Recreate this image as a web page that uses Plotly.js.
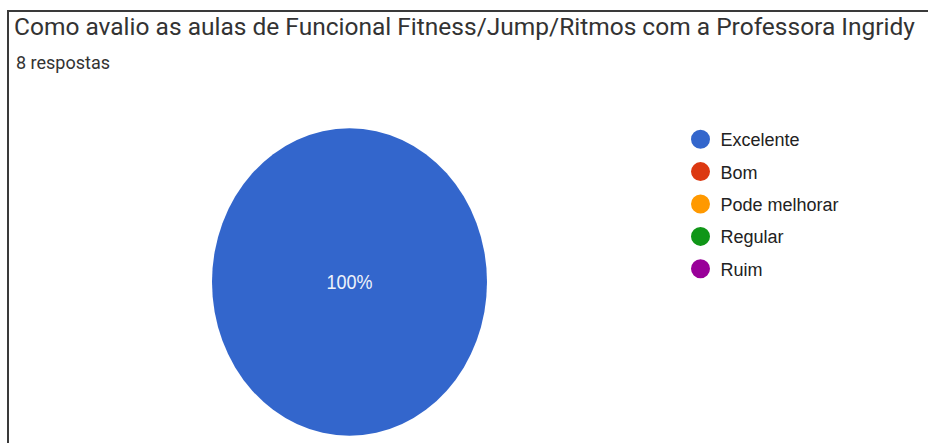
<!DOCTYPE html>
<html><head><meta charset="utf-8">
<script src="https://cdn.plot.ly/plotly-3.0.1.min.js"></script>
<style>html,body{margin:0;padding:0;background:#fff;} #chart{width:928px;height:443px;}</style>
</head><body><div id="chart"></div>
<script>
const titleText = "Como avalio as aulas de Funcional Fitness/Jump/Ritmos com a Professora Ingridy";
const subtitleText = "8 respostas";
const categories = ["Excelente", "Bom", "Pode melhorar", "Regular", "Ruim"];
const responses = [8, 0, 0, 0, 0];
const colors = ["#3366cc", "#dc3912", "#ff9900", "#109618", "#990099"];

const W = 928, H = 443;
const pieCx = 349.5, pieCy = 282, pieR = 137.5, stretch = 1.118;

const pieTrace = {
  type: 'pie', labels: categories, values: responses,
  marker: {colors: colors, line: {width: 0}},
  sort: false, direction: 'clockwise', rotation: 0,
  textinfo: 'percent',
  textposition: responses.map(v => v > 0 ? 'inside' : 'none'),
  insidetextorientation: 'horizontal',
  textfont: {family: 'Arial, "Liberation Sans", sans-serif', size: 18, color: '#eef2fa'},
  showlegend: false, hoverinfo: 'skip',
  domain: {x: [(pieCx - pieR) / W, (pieCx + pieR) / W], y: [(H - pieCy - pieR) / H, (H - pieCy + pieR) / H]}
};
const legendTraces = categories.map((c, i) => ({
  type: 'scatter', mode: 'markers', x: [null], y: [null], name: c, legendgroup: c,
  marker: {color: colors[i], size: 16, symbol: 'circle', line: {color: colors[i], width: 3}},
  hoverinfo: 'skip'
}));

const layout = {
  width: W, height: H, margin: {l: 0, r: 0, t: 0, b: 0},
  paper_bgcolor: '#ffffff', plot_bgcolor: 'rgba(0,0,0,0)',
  xaxis: {visible: false}, yaxis: {visible: false},
  title: {text: titleText, font: {family: 'Roboto', size: 24.5, color: '#333333'},
    x: 14 / W, xanchor: 'left', xref: 'paper', y: 1 - 26 / H, yref: 'container', yanchor: 'middle'},
  legend: {x: 680.5 / W, xanchor: 'left', y: 1 - 121 / H, yanchor: 'top',
    font: {family: 'Arial, "Liberation Sans", sans-serif', size: 18, color: '#222222'},
    traceorder: 'grouped', tracegroupgap: 6, bgcolor: 'rgba(0,0,0,0)', borderwidth: 0},
  annotations: [{text: subtitleText, xref: 'paper', yref: 'paper', x: 14 / W, xanchor: 'left',
    y: 1 - 62 / H, yanchor: 'middle', showarrow: false, font: {family: 'Roboto', size: 18, color: '#333333'}}],
  shapes: [{type: 'rect', xref: 'paper', yref: 'paper', x0: 8 / W, x1: 1.02, y0: -0.02, y1: 1 - 11 / H,
    line: {color: '#3a3a3a', width: 2}, fillcolor: 'rgba(0,0,0,0)', layer: 'above'}]
};

Plotly.newPlot('chart', [pieTrace].concat(legendTraces), layout, {staticPlot: true, displayModeBar: false}).then(gd => {
  const g = gd.querySelector('.pielayer');
  if (g) g.setAttribute('transform', `matrix(1,0,0,${stretch},0,${pieCy * (1 - stretch)})`);
});
</script>
</body></html>
